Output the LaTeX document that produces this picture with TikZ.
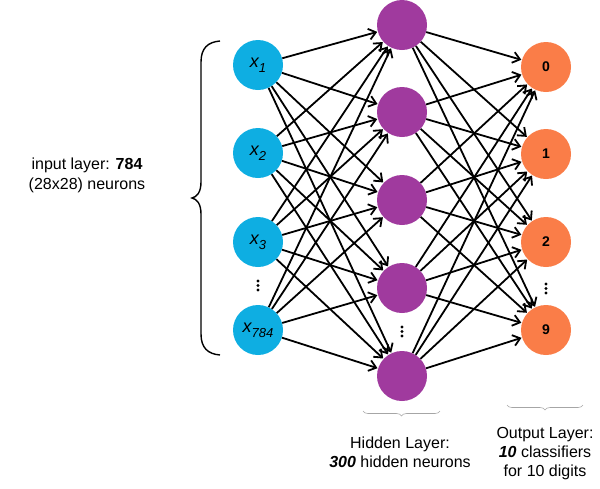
\documentclass[tikz,border=0pt]{standalone}
\usepackage{fontspec}
\setmainfont{Liberation Sans}
\usetikzlibrary{arrows.meta,decorations.pathreplacing}
\definecolor{inblue}{RGB}{14,174,226}
\definecolor{hidpurple}{RGB}{160,58,158}
\definecolor{outorange}{RGB}{250,125,72}
\tikzset{
  neuron/.style={circle,minimum size=50pt,inner sep=0pt},
  innode/.style={neuron,fill=inblue},
  hidnode/.style={neuron,fill=hidpurple},
  outnode/.style={neuron,fill=outorange,font=\fontsize{14}{14}\selectfont\bfseries},
  conn/.style={line width=1.8pt,-{Straight Barb[length=7pt,width=11pt]},shorten >=0.5pt},
  lbl/.style={align=center,font=\fontsize{16}{19}\selectfont},
  smallbrace/.style={decorate,decoration={brace,amplitude=5pt},draw=gray!70,line width=0.6pt},
  dotmark/.style={fill=black}
}
\newcommand{\xin}[1]{{\fontsize{18}{18}\selectfont\itshape x}\raisebox{-5pt}{\fontsize{13}{13}\selectfont\itshape #1}}
\begin{document}
\begin{tikzpicture}[x=1pt,y=-1pt]
\useasboundingbox (0,0) rectangle (600,488);
% input
\node[innode] (i1) at (258,65) {\xin{1}};
\node[innode] (i2) at (258,153) {\xin{2}};
\node[innode] (i3) at (258,242) {\xin{3}};
\node[innode] (i4) at (258,330) {\xin{784}};
% hidden
\node[hidnode] (h1) at (402,25) {};
\node[hidnode] (h2) at (402,112) {};
\node[hidnode] (h3) at (402,200) {};
\node[hidnode] (h4) at (402,288) {};
\node[hidnode] (h5) at (402,376) {};
% output
\node[outnode] (o1) at (546,67) {0};
\node[outnode] (o2) at (546,154) {1};
\node[outnode] (o3) at (546,242) {2};
\node[outnode] (o4) at (546,330) {9};
% edges
\foreach \a in {1,...,4}{
  \foreach \b in {1,...,5}{
    \draw[conn] (i\a) -- (h\b);
  }
}
\foreach \a in {1,...,5}{
  \foreach \b in {1,...,4}{
    \draw[conn] (h\a) -- (o\b);
  }
}
% dots
\foreach \y in {281,285.5,290}{\fill[dotmark] (258,\y) circle (1.7);}
\foreach \y in {327,331.5,336}{\fill[dotmark] (402,\y) circle (1.7);}
\foreach \y in {284,288.5,293}{\fill[dotmark] (546,\y) circle (1.7);}
% left brace
\draw[line width=1.4pt] (220,41) .. controls (208,42) and (201,48) .. (201,62) -- (201,182)
  .. controls (201,192) and (197,197) .. (192,198)
  .. controls (197,199) and (201,204) .. (201,214) -- (201,334)
  .. controls (201,348) and (208,354) .. (220,355);
% small braces
\coordinate (hb1) at (440,411);
\coordinate (hb2) at (363,411);
\coordinate (ob1) at (583,405);
\coordinate (ob2) at (507,405);
\draw[smallbrace] (hb1) -- (hb2);
\draw[smallbrace] (ob1) -- (ob2);
% labels
\node[lbl,font=\fontsize{16}{20}\selectfont] (tin) at (87,175) {input layer: \textbf{784}\\(28x28) neurons};
\node[lbl] (thid) at (400,452) {Hidden Layer:\\\textbf{\textit{300}} hidden neurons};
\node[lbl] (tout) at (545,453.5) {Output Layer:\\\textbf{\textit{10}} classifiers\\for 10 digits};
\end{tikzpicture}
\end{document}
